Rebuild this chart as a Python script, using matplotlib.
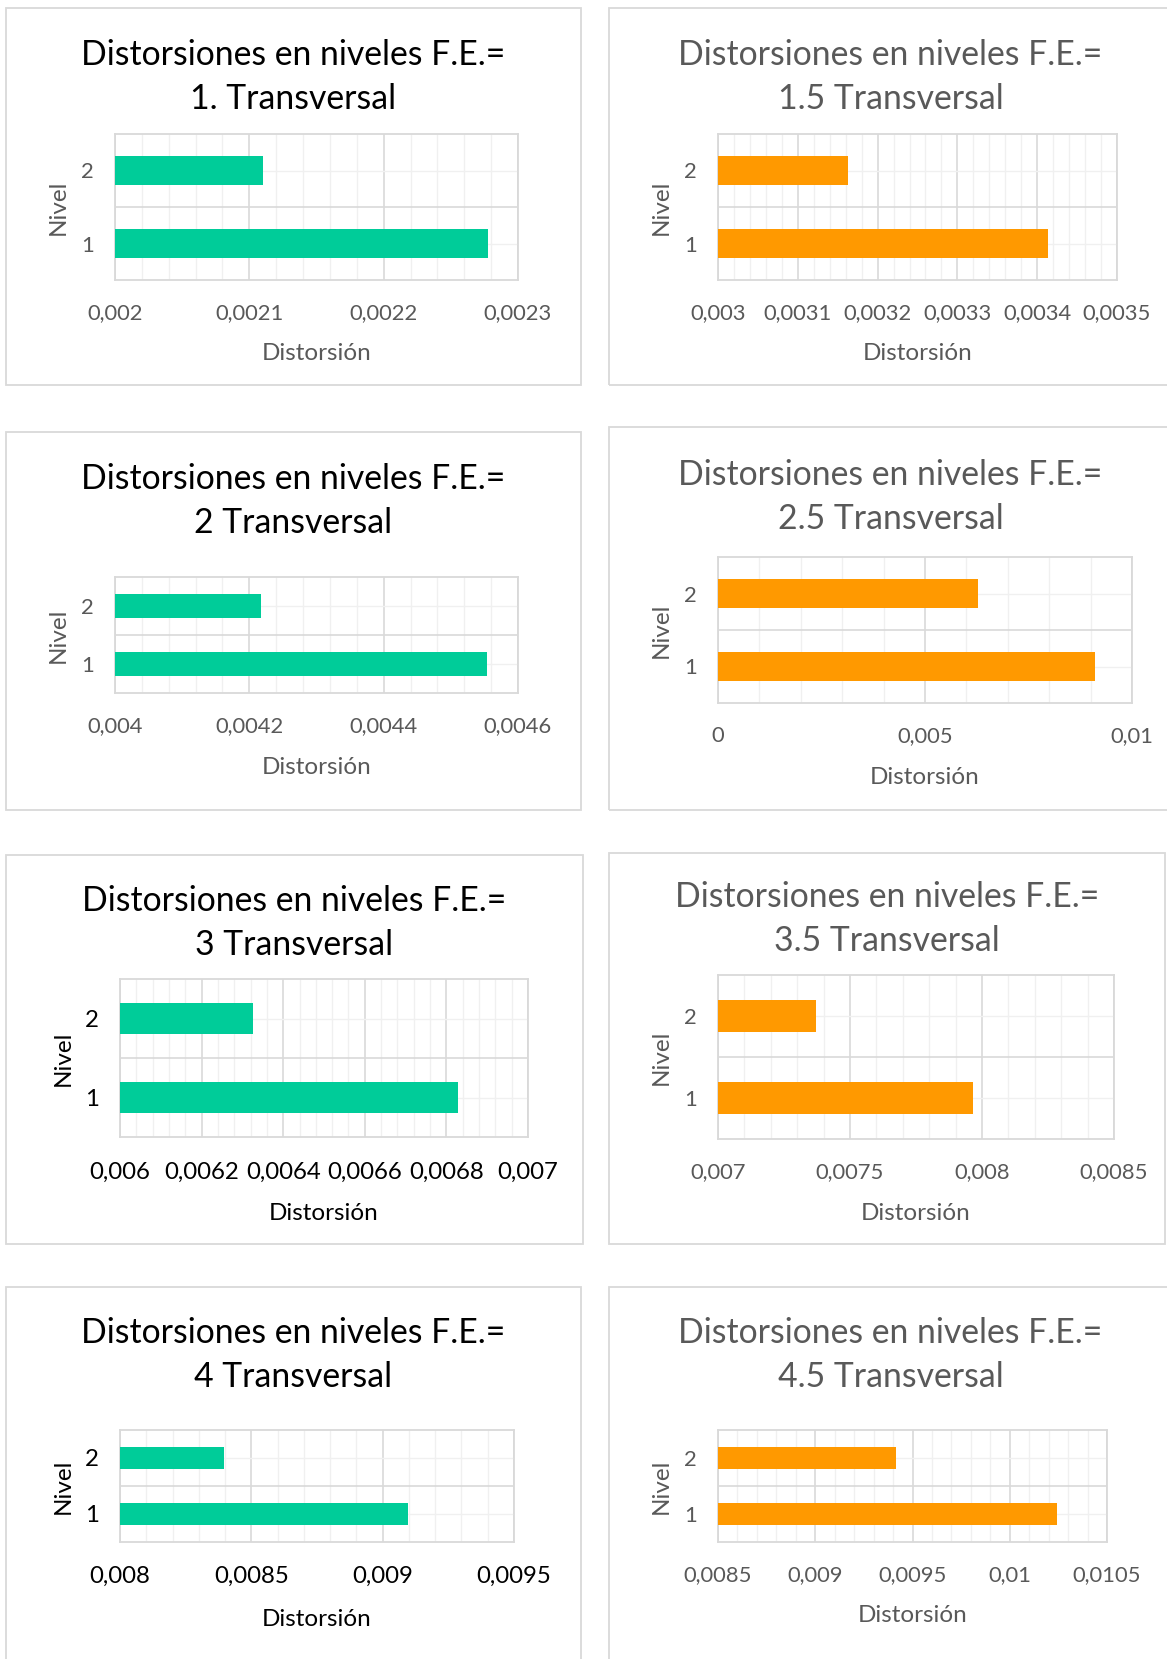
import matplotlib.pyplot as plt
from matplotlib.patches import Rectangle
from matplotlib.ticker import MultipleLocator, FuncFormatter

plt.rcParams['font.family'] = ['Lato', 'DejaVu Sans']

W, H = 1167, 1659

# F.E. value shown in each chart title
factores = ['1.', '1.5', '2', '2.5', '3', '3.5', '4', '4.5']
niveles = [1, 2]

# Distorsión for nivel 1 and nivel 2
dist_fe10 = [0.002278, 0.00211]
dist_fe15 = [0.003414, 0.003163]
dist_fe20 = [0.004554, 0.004218]
dist_fe25 = [0.00911, 0.00627]
dist_fe30 = [0.006828, 0.006327]
dist_fe35 = [0.007967, 0.00737]
dist_fe40 = [0.009097, 0.008395]
dist_fe45 = [0.010245, 0.009415]
distorsiones = [dist_fe10, dist_fe15, dist_fe20, dist_fe25,
                dist_fe30, dist_fe35, dist_fe40, dist_fe45]

# x axis: min, max and major step of every chart
x_min = [0.002, 0.003, 0.004, 0.0, 0.006, 0.007, 0.008, 0.0085]
x_max = [0.0023, 0.0035, 0.0046, 0.01, 0.007, 0.0085, 0.0095, 0.0105]
x_step = [0.0001, 0.0001, 0.0002, 0.005, 0.0002, 0.0005, 0.0005, 0.0005]

# pixel layout: outer frame (x0, y0, x1, y1) and plot area (x0, y0, x1, y1)
frames = [(6, 8, 581, 385), (609, 8, 1172, 385),
          (6, 432, 581, 810), (609, 427, 1172, 810),
          (6, 855, 583, 1244), (609, 853, 1165, 1244),
          (6, 1287, 581, 1670), (609, 1287, 1172, 1670)]
plots = [(115, 134, 518, 280), (718, 134, 1117, 280),
         (115, 577, 518, 693), (718, 557, 1132, 703),
         (120, 979, 528, 1137), (718, 975, 1114, 1139),
         (120, 1430, 514, 1542), (718, 1430, 1107, 1542)]
title_y = [77, 77, 501, 497, 923, 919, 1355, 1355]

GRID_MAJOR = '#d9d9d9'
GRID_MINOR = '#f0f0f0'


def fmt_coma(v, pos=None):
    s = f'{v:.6f}'.rstrip('0').rstrip('.')
    return s.replace('.', ',')


fig = plt.figure(figsize=(W / 100, H / 100), dpi=100)

for i in range(8):
    left_col = i % 2 == 0
    big = i in (4, 6)
    color = '#00cc99' if left_col else '#ff9900'
    title_color = '#000000' if left_col else '#595959'
    text_color = '#000000' if big else '#595959'
    tick_size = 17.3 if big else 15.8
    label_size = 17.5

    fx0, fy0, fx1, fy1 = frames[i]
    fig.add_artist(Rectangle((fx0 / W, 1 - fy1 / H), (fx1 - fx0) / W, (fy1 - fy0) / H,
                             transform=fig.transFigure, fill=False,
                             edgecolor='#d9d9d9', lw=1.3))

    px0, py0, px1, py1 = plots[i]
    ax = fig.add_axes([px0 / W, 1 - py1 / H, (px1 - px0) / W, (py1 - py0) / H])

    # bars start at the axis minimum, where the category axis crosses
    ax.barh(niveles, [d - x_min[i] for d in distorsiones[i]], height=0.4,
            left=x_min[i], color=color, zorder=3)

    ax.set_xlim(x_min[i], x_max[i])
    ax.set_ylim(0.5, 2.5)
    ax.xaxis.set_major_locator(MultipleLocator(x_step[i]))
    ax.xaxis.set_minor_locator(MultipleLocator(x_step[i] / 5))
    ax.xaxis.set_major_formatter(FuncFormatter(fmt_coma))
    ax.set_yticks(niveles)
    ax.set_yticks([1.5], minor=True)

    ax.grid(which='major', axis='x', color=GRID_MAJOR, lw=1.2, zorder=0)
    ax.grid(which='minor', axis='x', color=GRID_MINOR, lw=1.0, zorder=0)
    ax.grid(which='minor', axis='y', color=GRID_MAJOR, lw=1.2, zorder=0)
    ax.grid(which='major', axis='y', color=GRID_MINOR, lw=1.0, zorder=0)
    ax.set_axisbelow(True)

    for sp in ax.spines.values():
        sp.set_color(GRID_MAJOR)
        sp.set_linewidth(1.3)

    ax.tick_params(axis='both', which='both', length=0)
    ax.tick_params(axis='x', pad=18 if i == 4 else (17 if big else 16.5),
                   labelsize=tick_size, labelcolor=text_color)
    ax.tick_params(axis='y', pad=15, labelsize=tick_size, labelcolor=text_color)

    # title, centred on the frame
    fig.text((fx0 + fx1) / 2 / W, 1 - title_y[i] / H,
             f'Distorsiones en niveles F.E.=\n{factores[i]} Transversal',
             ha='center', va='center', fontsize=24.3, color=title_color,
             linespacing=1.43)

    # axis titles
    fig.text((px0 + px1) / 2 / W, 1 - (py1 + (77 if big else 74)) / H, 'Distorsión',
             ha='center', va='center', fontsize=label_size, color=text_color)
    fig.text((px0 - 57) / W, 1 - (py0 + py1) / 2 / H, 'Nivel', rotation=90,
             ha='center', va='center', fontsize=label_size, color=text_color)

fig.savefig('out.png', dpi=100, facecolor='white')
